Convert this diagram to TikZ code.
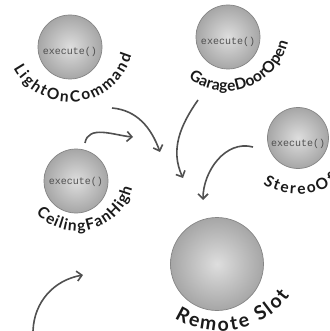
\documentclass[tikz,border=0pt]{standalone}
\usepackage{fontspec}
\newfontfamily\handfont{Lato}
\newfontfamily\codefont{Liberation Mono}
\usetikzlibrary{arrows.meta, decorations.text}
\definecolor{ballinner}{HTML}{DEDEDE}
\definecolor{ballouter}{HTML}{A6A6A6}
\definecolor{ballrim}{HTML}{858585}
\definecolor{codegray}{HTML}{505050}
\definecolor{arrowgray}{HTML}{505050}
\definecolor{labelink}{HTML}{1A1A1A}
\newcommand\handlabel{\handfont\bfseries\fontsize{15.5}{18}\selectfont\color{labelink}}
\newcommand\slotlabel{\handfont\bfseries\fontsize{19.5}{22}\selectfont\color{labelink}}

\begin{document}
\begin{tikzpicture}[x=1pt, y=1pt,
    ball/.style={circle, draw=ballrim, line width=0.7pt, inner color=ballinner, outer color=ballouter, minimum size=64pt, inner sep=0pt},
    exe/.style={font=\codefont\fontsize{10}{12}\selectfont, text=codegray, inner sep=0pt},
    flow/.style={draw=arrowgray, line width=1.6pt, -{Straight Barb[length=5pt, width=10pt]}},
    arctext/.style={decorate, decoration={text along path, text align=fit to path, text={#1}}}
  ]
  \clip (0,0) rectangle (329,-331);
  \fill[white] (0,0) rectangle (329,-331);

  % command objects
  \node[ball] (light) at (70,-47) {};
  \node[ball] (garage) at (228,-37) {};
  \node[ball] (fan) at (76,-181) {};
  \node[ball, minimum size=61pt] (stereo) at (298,-138) {};
  \node[ball, minimum size=93pt] (slot) at (217,-264) {};

  \node[exe] (lightexe) at ([yshift=-5pt]light.center) {execute()};
  \node[exe] (garageexe) at ([yshift=-5pt]garage.center) {execute()};
  \node[exe] (fanexe) at ([yshift=-1pt]fan.center) {execute()};
  \node[exe] (stereoexe) at ([yshift=-6pt]stereo.center) {execute()};

  % labels round the balls
  \coordinate (lightarc) at ([yshift=9pt]light.center);
  \coordinate (garagearc) at ([shift={(-2,10)}]garage.center);
  \coordinate (fanarc) at ([shift={(1,7)}]fan.center);
  \coordinate (stereoarc) at ([yshift=10pt]stereo.center);
  \coordinate (slotarc) at ([shift={(3,19)}]slot.center);

  \path[arctext={|\handlabel|LightOnCommand}] ([shift={(208:64)}]lightarc) arc[start angle=208, end angle=344, radius=64];
  \path[arctext={|\handlabel|GarageDoorOpen}] ([shift={(234:64)}]garagearc) arc[start angle=234, end angle=346, radius=64];
  \path[arctext={|\handlabel|CeilingFanHigh}] ([shift={(224:57)}]fanarc) arc[start angle=224, end angle=346, radius=57];
  \path[arctext={|\handlabel|StereoOff}] ([shift={(238:66)}]stereoarc) arc[start angle=238, end angle=312, radius=66];
  \path[arctext={|\slotlabel|Remote Slot}] ([shift={(238:86)}]slotarc) arc[start angle=238, end angle=324, radius=86];

  % arrows into the slot
  \coordinate (lightout) at (112,-108);
  \coordinate (lightin) at (160,-152);
  \coordinate (garageout) at (198,-100);
  \coordinate (garagein) at (183,-178);
  \coordinate (stereoout) at (253,-147);
  \coordinate (stereoin) at (203,-200);
  \coordinate (fanout) at (85,-143);
  \coordinate (fanin) at (133,-137);
  \coordinate (freeout) at (33,-331);
  \coordinate (freein) at (83,-275);

  \draw[flow] (lightout) to[out=-5, in=110] (lightin);
  \draw[flow] (garageout) to[out=235, in=115] (garagein);
  \draw[flow] (stereoout) to[out=165, in=90] (stereoin);
  \draw[flow] (fanout) to[out=80, in=175] (fanin);
  \draw[flow] (freeout) to[out=88, in=190] (freein);
\end{tikzpicture}
\end{document}
